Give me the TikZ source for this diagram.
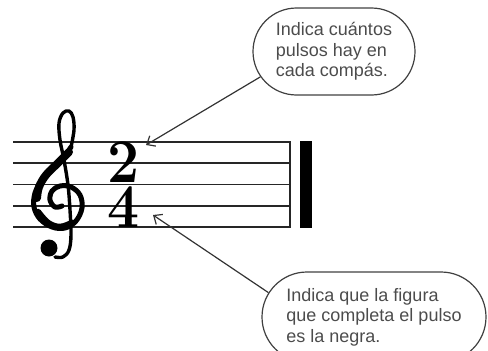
\documentclass[tikz,border=0pt]{standalone}
\usepackage{fontspec}
\usepackage{graphicx}
\newfontfamily\arial{Liberation Sans}
\usetikzlibrary{shapes.misc,arrows.meta}
\begin{document}
\begin{tikzpicture}[x=1pt,y=-1pt,
 staffline/.style={line width=1.7pt,draw=black!85},
 bubble/.style={rounded rectangle, draw=black!75, line width=1.2pt, inner sep=0pt, text=black!70, font=\arial\fontsize{18}{20.5}\selectfont, align=left},
 pointer/.style={draw=black!80, line width=1.2pt, -{Straight Barb[length=7pt,width=12pt]}},
 digit/.style={inner sep=0pt, font=\fontsize{62}{62}\selectfont\bfseries},
 clefstroke/.style={draw=black, line cap=round, line join=round}]
\useasboundingbox (0,0) rectangle (488,351);
\clip (0,0) rectangle (488,351);
\foreach \y in {142,163.25,184.5,205.75,227}{ \draw[staffline] (13,\y) -- (290,\y); }
\draw[line width=2pt,black!85] (290,141.25) -- (290,227.75);
\fill[black] (300,141.25) rectangle (312,227.75);
% treble clef drawn as a shape
\draw[clefstroke, line width=3.4pt] plot[smooth, tension=0.6] coordinates
  {(55,257) (63,257) (69,250) (71,235) (70,210) (68,185) (64,160) (60,140) (59,123) (63,113) (69,111) (73,117) (74,130) (71,147)};
\draw[clefstroke, line width=5pt] plot[smooth, tension=0.6] coordinates
  {(71,147) (63,158) (52,169) (42,180) (35,193) (34,207) (40,219) (52,227) (65,228) (76,221) (82,208) (80,195) (71,187) (60,186) (52,191) (50,200) (55,207) (62,206)};
\draw[clefstroke, line width=8pt] plot[smooth, tension=0.6] coordinates
  {(69,152) (58,163) (46,175) (39,187) (37,198)};
\draw[clefstroke, line width=6.5pt] plot[smooth, tension=0.6] coordinates
  {(38,212) (48,223) (60,227) (72,223)};
\fill[black] (49,248) circle (8.5);
\node[digit, anchor=base] (ts) at (124,227) {\scalebox{0.92}[1]{\vbox{\offinterlineskip\hbox{2}\kern4pt\hbox{4}}}};
\node[bubble, minimum width=162pt, minimum height=87pt] (b1) at (334,51.5) {Indica cuántos\\pulsos hay en\\cada compás.};
\node[bubble, minimum width=224pt, minimum height=90pt] (b2) at (374,317) {Indica que la figura\\que completa el pulso\\es la negra.};
\coordinate (t1) at (146,145);
\coordinate (t2) at (153,215);
\draw[pointer] (b1.199) -- (t1);
\draw[pointer] (b2.167) -- (t2);
\end{tikzpicture}
\end{document}
